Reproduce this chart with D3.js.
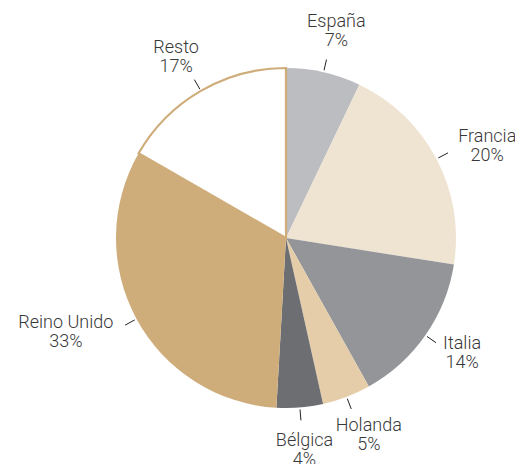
<!DOCTYPE html>
<html><head><meta charset="utf-8">
<script src="https://cdn.jsdelivr.net/npm/d3@7"></script>
<style>body{margin:0;background:#fff}svg{display:block}text{font-family:Roboto,"Liberation Sans",sans-serif;font-weight:300;fill:#383838;font-size:18px}</style>
</head><body><svg id="c" width="515" height="464"></svg>
<script>
const categories = ["España","Francia","Italia","Holanda","Bélgica","Reino Unido","Resto"];
const values = [7.1,20.4,14.4,4.6,4.4,32.4,16.7];
const labels = ["7%","20%","14%","5%","4%","33%","17%"];
const colors = ["#bcbdc1","#efe3d2","#939598","#e6cdaa","#6d6e72","#cfad7b","#ffffff"];

const svg = d3.select("#c");
const cx = 286, cy = 238, r = 170;
const g = svg.append("g").attr("transform",`translate(${cx},${cy})`);
const pie = d3.pie().sort(null).value(d=>d.v);
const data = pie(categories.map((c,i)=>({c, v:values[i], lab:labels[i], col:colors[i]})));
const arc = d3.arc().innerRadius(0).outerRadius(r);

const order = data.slice().sort((a,b)=>(a.data.c==="Resto")-(b.data.c==="Resto"));
g.selectAll("path").data(order).join("path")
  .attr("d",arc)
  .attr("fill",d=>d.data.col)
  .attr("stroke",d=>d.data.c==="Resto"?"#cfad7b":"none")
  .attr("stroke-width",2.2);

const pol = (a,rad)=>[Math.sin(a)*rad, -Math.cos(a)*rad];
data.forEach(d=>{
  const a = (d.startAngle+d.endAngle)/2;
  const p0 = pol(a,r+2), p1 = pol(a,r+13);
  g.append("line").attr("x1",p0[0]).attr("y1",p0[1]).attr("x2",p1[0]).attr("y2",p1[1])
    .attr("stroke","#222").attr("stroke-width",1);
  const t = g.append("text").attr("text-anchor","middle");
  const l1 = t.append("tspan").attr("x",0).attr("y",0).text(d.data.c);
  const l2 = t.append("tspan").attr("x",0).attr("dy",19).text(d.data.lab);
  const w = Math.max(l1.node().getComputedTextLength(), l2.node().getComputedTextLength());
  const c = Math.cos(a), s = Math.sin(a);
  const x = p1[0] + s*(w/2*1.25+8);
  const yc = p1[1] - (c*Math.abs(c)*30 - 2);
  t.attr("transform",`translate(${x},${yc - 6})`);
});
</script></body></html>
